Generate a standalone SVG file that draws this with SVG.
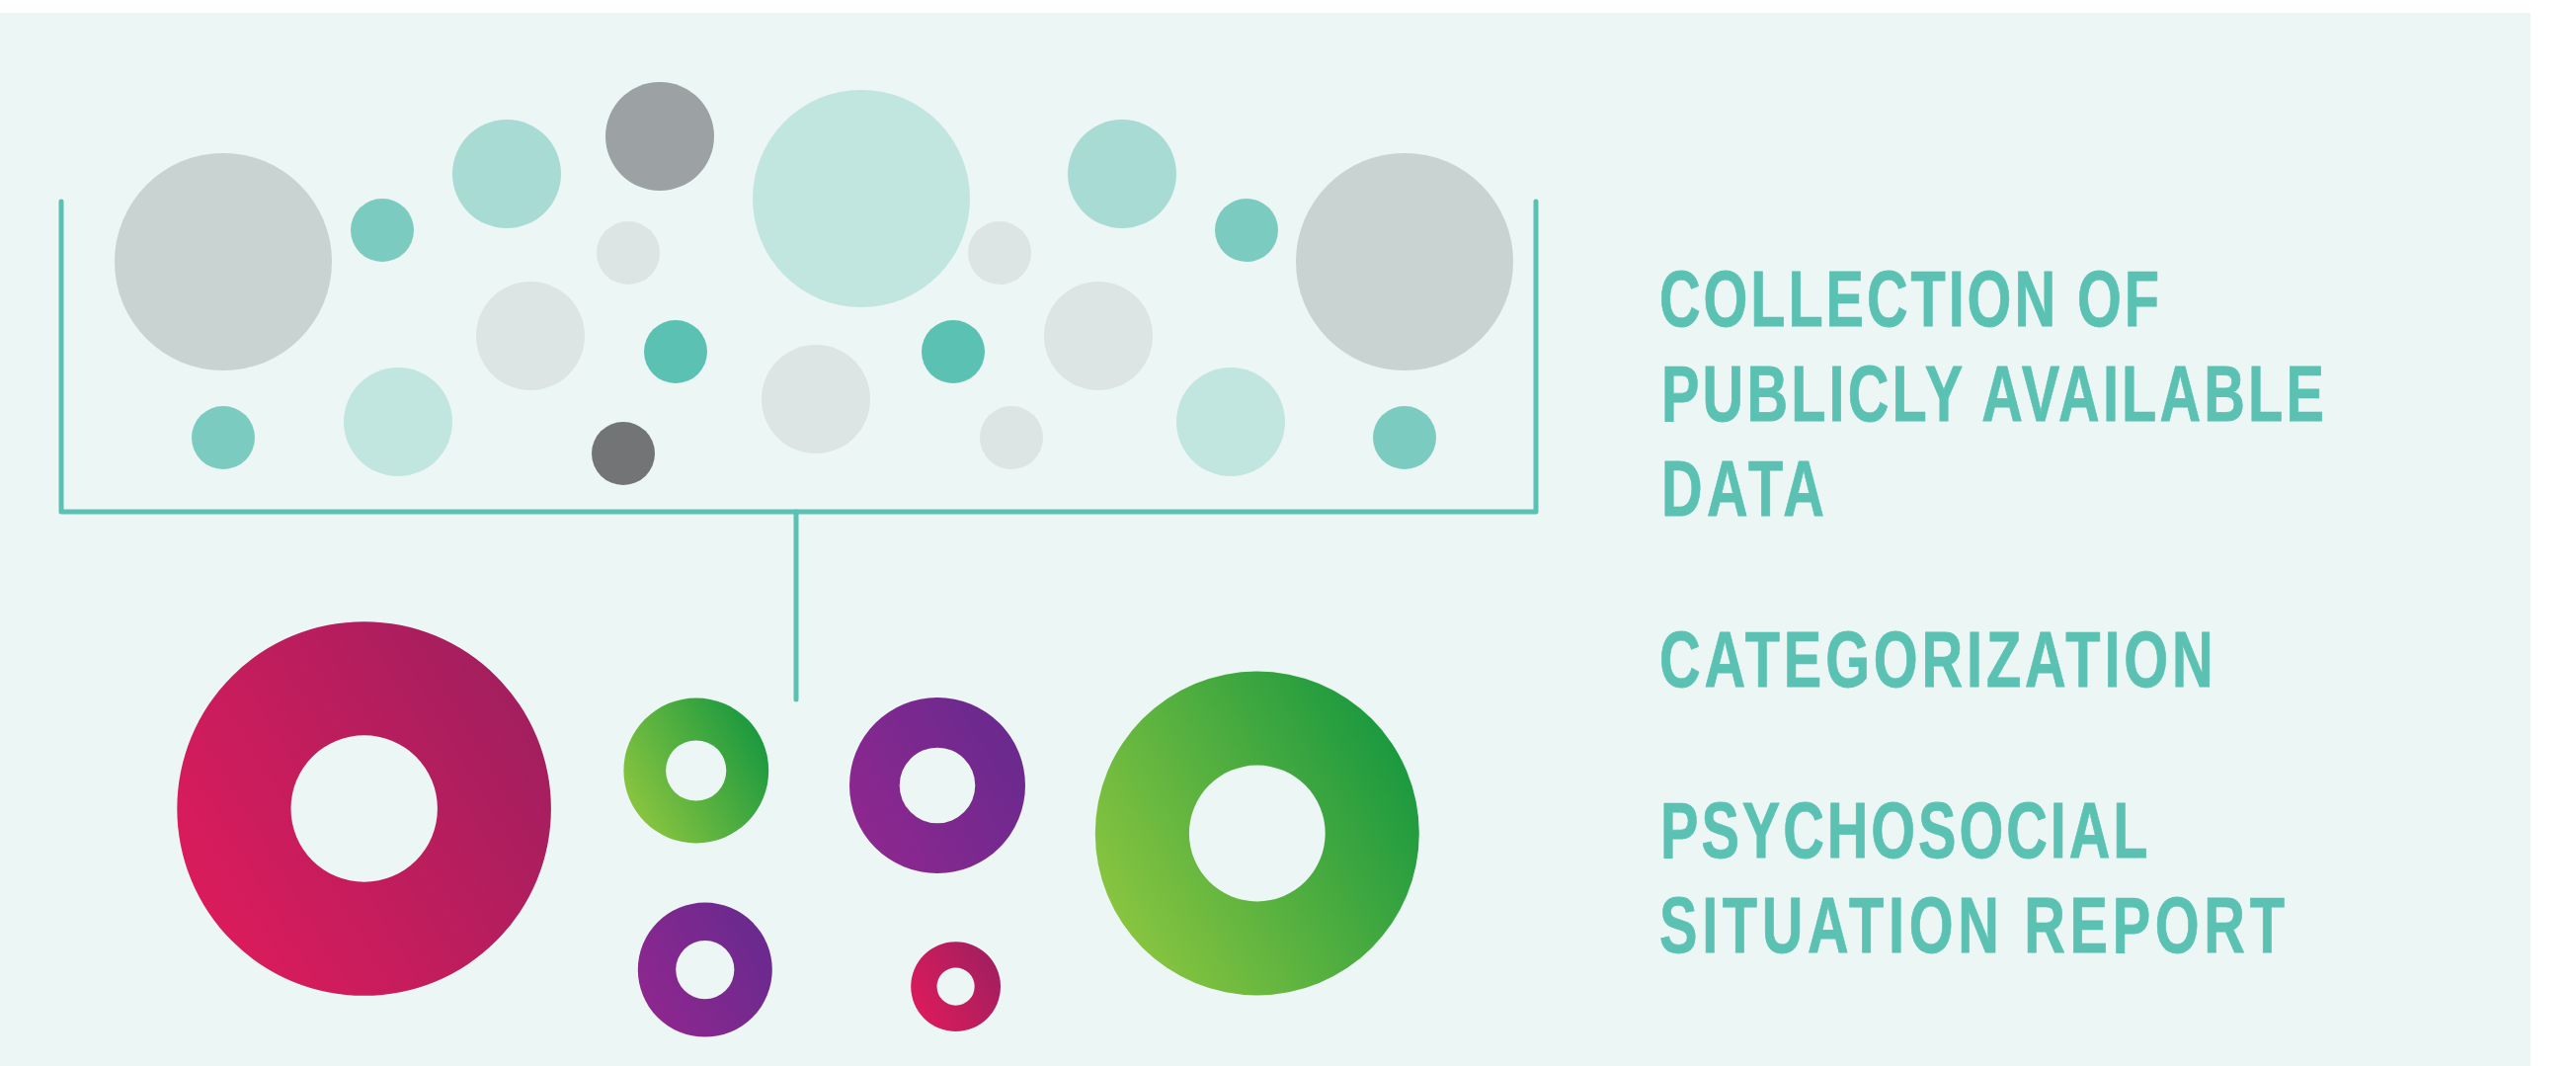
<svg xmlns="http://www.w3.org/2000/svg" width="2608" height="1079" viewBox="0 0 2608 1079">
<style>
.lbl{font-family:"Liberation Sans",Arial,sans-serif;font-weight:bold;font-size:79px;fill:#5bc2b3;stroke:#5bc2b3;stroke-width:0.8}
.conn{fill:none;stroke:#5bc2b3;stroke-width:5;stroke-linecap:round;stroke-linejoin:round}
.c-gray{fill:#c9d3d1}.c-dark{fill:#9ca2a4}.c-darker{fill:#727476}.c-lgray{fill:#dce5e3}
.c-teal{fill:#5bc2b3}.c-mteal{fill:#7ccbc0}.c-lteal{fill:#a8dbd4}.c-pteal{fill:#c1e5df}
</style>
<defs>
<linearGradient id="gMag" x1="0.05" y1="0.8" x2="1" y2="0.25"><stop offset="0" stop-color="#dc1b5b"/><stop offset="1" stop-color="#a01f5f"/></linearGradient>
<linearGradient id="gGrn" x1="0.05" y1="0.8" x2="1" y2="0.25"><stop offset="0" stop-color="#8cc63f"/><stop offset="1" stop-color="#16973f"/></linearGradient>
<linearGradient id="gPur" x1="0.05" y1="0.8" x2="1" y2="0.25"><stop offset="0" stop-color="#8e278f"/><stop offset="1" stop-color="#682a8e"/></linearGradient>
</defs>
<rect x="0" y="13" width="2562" height="1066" fill="#ecf6f4"/>

<g id="data-circles">
<circle class="c-gray" cx="226" cy="265" r="110"/>
<circle class="c-mteal" cx="387" cy="233" r="32"/>
<circle class="c-lteal" cx="513" cy="176" r="55"/>
<circle class="c-dark" cx="668" cy="138" r="55"/>
<circle class="c-lgray" cx="636" cy="256" r="32"/>
<circle class="c-pteal" cx="872" cy="201" r="110"/>
<circle class="c-lgray" cx="537" cy="340" r="55"/>
<circle class="c-teal" cx="684" cy="356" r="32"/>
<circle class="c-teal" cx="965" cy="356" r="32"/>
<circle class="c-lgray" cx="826" cy="404" r="55"/>
<circle class="c-mteal" cx="226" cy="443" r="32"/>
<circle class="c-pteal" cx="403" cy="427" r="55"/>
<circle class="c-darker" cx="631" cy="459" r="32"/>
<circle class="c-lgray" cx="1012" cy="256" r="32"/>
<circle class="c-lteal" cx="1136" cy="176" r="55"/>
<circle class="c-mteal" cx="1262" cy="233" r="32"/>
<circle class="c-gray" cx="1422" cy="265" r="110"/>
<circle class="c-lgray" cx="1112" cy="340" r="55"/>
<circle class="c-lgray" cx="1024" cy="443" r="32"/>
<circle class="c-pteal" cx="1246" cy="427" r="55"/>
<circle class="c-mteal" cx="1422" cy="443" r="32"/>
</g>

<g id="connectors">
<path class="conn" d="M62,204 V518 H1555 V204"/>
<path class="conn" d="M806,518 V708"/>
</g>

<g id="category-rings" fill-rule="evenodd">
<path fill="url(#gMag)" d="M179.3,818.5a189.3,189.3 0 1,0 378.6,0a189.3,189.3 0 1,0 -378.6,0z M294.5,818.5a74.2,74.2 0 1,0 148.4,0a74.2,74.2 0 1,0 -148.4,0z"/>
<path fill="url(#gGrn)" d="M631.4,780a73.4,73.4 0 1,0 146.8,0a73.4,73.4 0 1,0 -146.8,0z M674.1,780a30.6,30.6 0 1,0 61.2,0a30.6,30.6 0 1,0 -61.2,0z"/>
<path fill="url(#gPur)" d="M860,795a89,89 0 1,0 178,0a89,89 0 1,0 -178,0z M910.7,795a38.3,38.3 0 1,0 76.6,0a38.3,38.3 0 1,0 -76.6,0z"/>
<path fill="url(#gGrn)" d="M1108.8,843.5a164,164 0 1,0 328,0a164,164 0 1,0 -328,0z M1203.9,843.5a68.9,68.9 0 1,0 137.8,0a68.9,68.9 0 1,0 -137.8,0z"/>
<path fill="url(#gPur)" d="M645.8,981.6a68,68 0 1,0 136,0a68,68 0 1,0 -136,0z M684.2,981.6a29.6,29.6 0 1,0 59.2,0a29.6,29.6 0 1,0 -59.2,0z"/>
<path fill="url(#gMag)" d="M922.2,998.6a45.4,45.4 0 1,0 90.8,0a45.4,45.4 0 1,0 -90.8,0z M948.5,998.6a19.1,19.1 0 1,0 38.2,0a19.1,19.1 0 1,0 -38.2,0z"/>
</g>

<g id="labels">
<text class="lbl" transform="translate(1680,330) scale(0.73,1)" textLength="693" lengthAdjust="spacing">COLLECTION OF</text>
<text class="lbl" transform="translate(1682,426) scale(0.73,1)" textLength="919" lengthAdjust="spacing">PUBLICLY AVAILABLE</text>
<text class="lbl" transform="translate(1682,522) scale(0.73,1)" textLength="226" lengthAdjust="spacing">DATA</text>
<text class="lbl" transform="translate(1680,695) scale(0.73,1)" textLength="768" lengthAdjust="spacing">CATEGORIZATION</text>
<text class="lbl" transform="translate(1681,868) scale(0.73,1)" textLength="676" lengthAdjust="spacing">PSYCHOSOCIAL</text>
<text class="lbl" transform="translate(1680,964) scale(0.73,1)" textLength="867" lengthAdjust="spacing">SITUATION REPORT</text>
</g>
</svg>
